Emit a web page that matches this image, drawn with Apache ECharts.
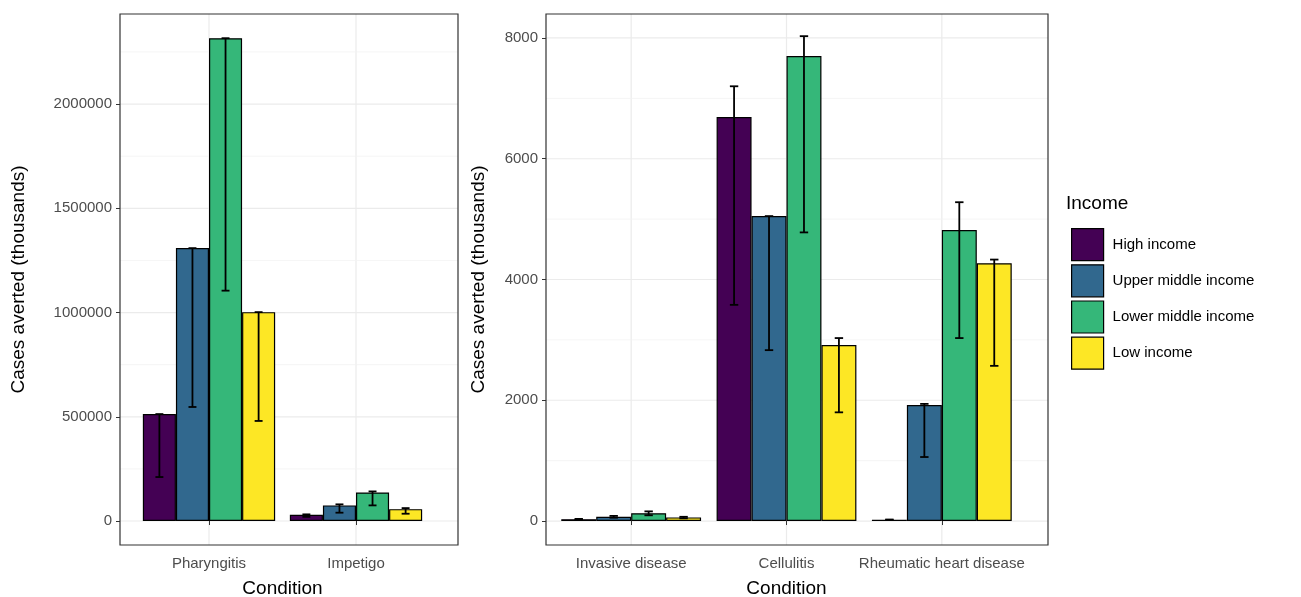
<!DOCTYPE html><html><head><meta charset="utf-8">
<script src="https://cdn.jsdelivr.net/npm/echarts@6/dist/echarts.min.js"></script>
<style>body{margin:0}#c{width:1301px;height:597px}</style></head><body><div id="c"></div>
<script>
const incomes=['High income','Upper middle income','Lower middle income','Low income'];
const colors=['#440154','#31688e','#35b779','#fde725'];
const catsL=['Pharyngitis','Impetigo'];
const catsR=['Invasive disease','Cellulitis','Rheumatic heart disease'];
const ticksL=[0,500000,1000000,1500000,2000000];
const ticksR=[0,2000,4000,6000,8000];
const valL=[[513000,30000],[1309000,75000],[2316000,137000],[1002000,57000]];
const loL=[[211000,20000],[547000,40000],[1105000,75000],[480000,35000]];
const hiL=[[513000,32000],[1309000,80000],[2316000,142000],[1002000,62000]];
const valR=[[30,6690,20],[70,5050,1920],[130,7700,4820],[60,2915,4270]];
const loR=[[20,3580,15],[55,2830,1060],[95,4780,3030],[45,1800,2570]];
const hiR=[[35,7200,25],[85,5050,1940],[160,8030,5280],[70,3030,4330]];
const font='Liberation Sans, Arial, sans-serif';
const PL=[120,14,338,531], PR=[546,14,502,531];
const ch=echarts.init(document.getElementById('c'));
function vgrid(cats,xi,yi,P){return {type:'custom',xAxisIndex:xi,yAxisIndex:yi,silent:true,z:0,clip:false,
 data:cats.map((c,i)=>[i]),renderItem:(p,api)=>{const x=api.coord([api.value(0),0])[0];
 return {type:'line',shape:{x1:x,y1:P[1],x2:x,y2:P[1]+P[3]},style:{stroke:'#ebebeb',lineWidth:1.2}};}};}
function hgrid(ticks,xi,yi,P){const d=[];const st=ticks[1]-ticks[0];ticks.forEach(t=>{d.push([t,1]);d.push([t+st/2,0]);});
 return {type:'custom',xAxisIndex:xi,yAxisIndex:yi,silent:true,z:0,clip:false,data:d,renderItem:(p,api)=>{
 const y=api.coord([0,api.value(0)])[1];if(y<P[1])return null;
 return {type:'line',shape:{x1:P[0],y1:y,x2:P[0]+P[2],y2:y},style:{stroke:api.value(1)?'#ebebeb':'#f3f3f3',lineWidth:api.value(1)?1.2:0.8}};},
 encode:{y:0}};}
function errs(cats,lo,hi,k,xi,yi){return {type:'custom',xAxisIndex:xi,yAxisIndex:yi,z:10,silent:true,
 data:cats.map((c,i)=>[i,lo[k][i],hi[k][i]]),renderItem:(p,api)=>{const i=api.value(0);
 const c0=api.coord([i,0]);const w=api.size([1,0])[0]*0.9/4;const x=c0[0]-w*2+w*(k+0.5);
 const y1=api.coord([i,api.value(1)])[1],y2=api.coord([i,api.value(2)])[1];const h=w*0.12;
 return {type:'group',children:[
 {type:'line',shape:{x1:x,y1:y1,x2:x,y2:y2},style:{stroke:'#000',lineWidth:1.8}},
 {type:'line',shape:{x1:x-h,y1:y1,x2:x+h,y2:y1},style:{stroke:'#000',lineWidth:1.8}},
 {type:'line',shape:{x1:x-h,y1:y2,x2:x+h,y2:y2},style:{stroke:'#000',lineWidth:1.8}}]};}};}
const series=[vgrid(catsL,0,0,PL),vgrid(catsR,1,1,PR),hgrid(ticksL,0,0,PL),hgrid(ticksR,1,1,PR)];
incomes.forEach((n,k)=>{
 series.push({name:n,type:'bar',xAxisIndex:0,yAxisIndex:0,data:valL[k],barGap:0,barCategoryGap:'10%',
  itemStyle:{color:colors[k],borderColor:'#000',borderWidth:1.2}});
 series.push({name:n,type:'bar',xAxisIndex:1,yAxisIndex:1,data:valR[k],barGap:0,barCategoryGap:'10%',
  itemStyle:{color:colors[k],borderColor:'#000',borderWidth:1.2}});
 series.push(errs(catsL,loL,hiL,k,0,0));series.push(errs(catsR,loR,hiR,k,1,1));
});
function xax(cats,gi){return {type:'category',gridIndex:gi,data:cats,name:'Condition',nameLocation:'middle',nameGap:34,
 nameTextStyle:{fontSize:19,color:'#000',fontFamily:font},
 axisLine:{show:false},axisTick:{show:true,alignWithLabel:true,length:4,lineStyle:{color:'#333'}},
 axisLabel:{fontSize:15,color:'#4d4d4d',fontFamily:font,margin:11,interval:0},splitLine:{show:false}};}
function yax(gi,min,max,ticks,off,gap){return {type:'value',gridIndex:gi,min:min,max:max,offset:off,
 name:'Cases averted (thousands)',nameLocation:'middle',nameGap:gap,nameTextStyle:{fontSize:19,color:'#000',fontFamily:font},
 axisLine:{show:false},axisTick:{show:true,length:4,customValues:ticks,lineStyle:{color:'#333'}},
 axisLabel:{fontSize:15,color:'#4d4d4d',fontFamily:font,customValues:ticks,formatter:v=>String(v)},
 splitLine:{show:false},minorSplitLine:{show:false}};}
ch.setOption({animation:false,
 grid:[{left:135.5,top:14,width:294,height:531,outerBoundsMode:'none',containLabel:false},
       {left:553.5,top:14,width:466,height:531,outerBoundsMode:'none',containLabel:false}],
 xAxis:[xax(catsL,0),xax(catsR,1)],
 yAxis:[yax(0,-115000,2432000,ticksL,15.5,92),yax(1,-397,8397,ticksR,7.5,58)],
 legend:{data:incomes,orient:'vertical',left:1066,top:223,itemWidth:32,itemHeight:32,itemGap:3,icon:'rect',
  textStyle:{fontSize:15,color:'#000',fontFamily:font,padding:[0,0,0,4]},itemStyle:{borderColor:'#000',borderWidth:1.2}},
 graphic:[{type:'text',left:1066,top:194,style:{text:'Income',fontSize:19,fill:'#000',fontFamily:font}},
  {type:'rect',shape:{x:PL[0],y:PL[1],width:PL[2],height:PL[3]},style:{fill:null,stroke:'#333',lineWidth:1.2},z:100},
  {type:'rect',shape:{x:PR[0],y:PR[1],width:PR[2],height:PR[3]},style:{fill:null,stroke:'#333',lineWidth:1.2},z:100}],
 series:series});
</script></body></html>
